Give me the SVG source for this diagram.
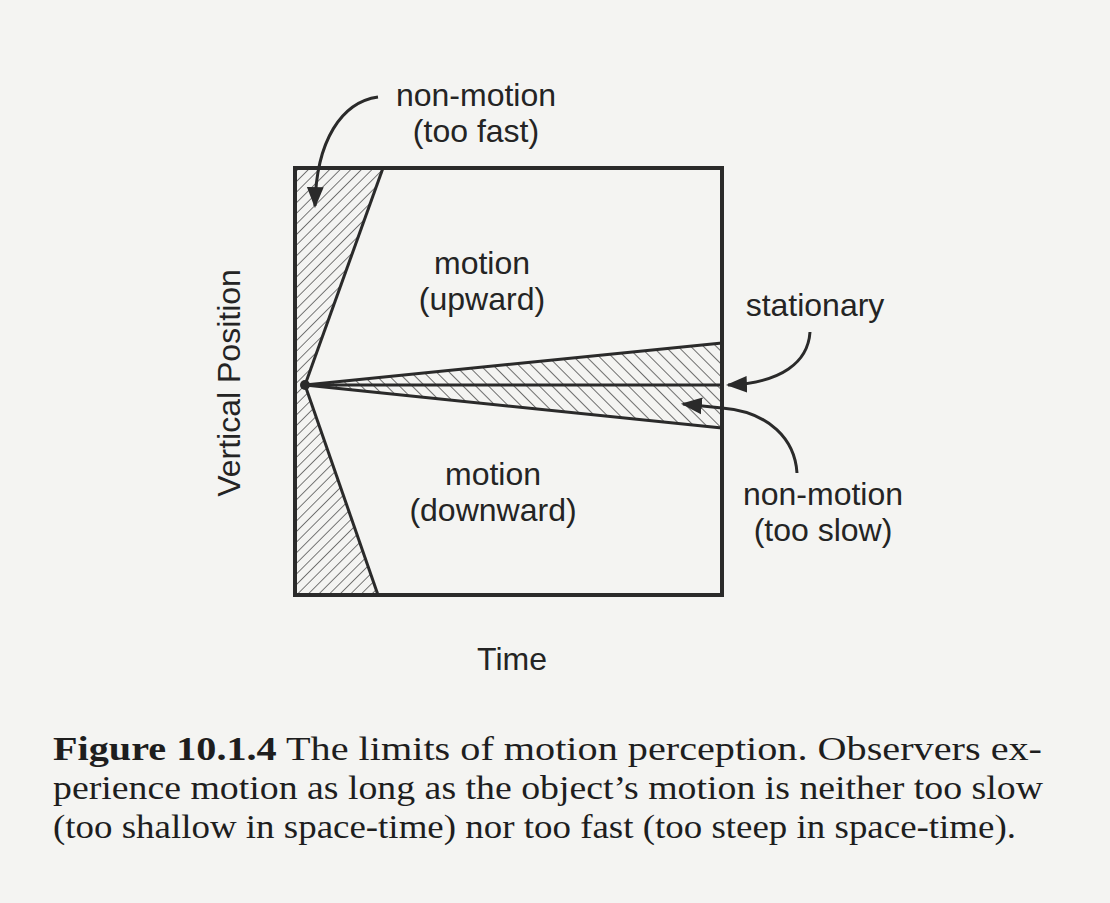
<svg xmlns="http://www.w3.org/2000/svg" width="1110" height="903" viewBox="0 0 1110 903">
<style>
.lbl{font-family:"Liberation Sans",Arial,sans-serif;font-size:32px;fill:#242424;text-anchor:middle}
.cap{font-family:"Liberation Serif","Times New Roman",serif;font-size:34px;fill:#1e1e1e}
.edge{fill:none;stroke:#2a2a2a;stroke-width:3}
.arrow{fill:none;stroke:#2a2a2a;stroke-width:3}
</style>
<defs>
<pattern id="hatchF" patternUnits="userSpaceOnUse" width="7.5" height="7.5" patternTransform="rotate(45)">
<line x1="0" y1="0" x2="0" y2="7.5" stroke="#333" stroke-width="1.3"/>
</pattern>
<pattern id="hatchS" patternUnits="userSpaceOnUse" width="9" height="9" patternTransform="rotate(-45)">
<line x1="0" y1="0" x2="0" y2="9" stroke="#333" stroke-width="1.4"/>
</pattern>
<marker id="ah" viewBox="0 0 10 10" refX="9" refY="5" markerWidth="7" markerHeight="7" markerUnits="strokeWidth" orient="auto">
<path d="M0,1 L10,5 L0,9 Z" fill="#2a2a2a"/>
</marker>
</defs>
<rect width="1110" height="903" fill="#f4f4f2"/>

<g id="too-fast-region">
<polygon points="295,168 383,168 305,385 378,595 295,595" fill="url(#hatchF)"/>
<line class="edge" x1="305" y1="385" x2="383" y2="168"/>
<line class="edge" x1="305" y1="385" x2="378" y2="595"/>
</g>
<g id="too-slow-region">
<polygon points="305,385 722,343 722,428" fill="url(#hatchS)"/>
<line class="edge" x1="305" y1="385" x2="722" y2="343"/>
<line class="edge" x1="305" y1="385" x2="722" y2="428"/>
</g>
<g id="stationary-line">
<line class="edge" x1="305" y1="385" x2="722" y2="385"/>
</g>
<g id="frame">
<rect x="295" y="168" width="427" height="427" fill="none" stroke="#2a2a2a" stroke-width="4"/>
<circle cx="305" cy="385" r="5" fill="#2a2a2a"/>
</g>

<g id="connectors">
<path class="arrow" d="M378,97 C342,102 316,140 315,206" marker-end="url(#ah)"/>
<path class="arrow" d="M810,332 C808,362 782,383 728,385" marker-end="url(#ah)"/>
<path class="arrow" d="M797,473 C795,440 770,412 722,408 L683,404" marker-end="url(#ah)"/>
</g>

<g id="label-too-fast">
<text class="lbl" x="476" y="106">non-motion</text>
<text class="lbl" x="476" y="142">(too fast)</text>
</g>
<g id="label-upward">
<text class="lbl" x="482" y="274">motion</text>
<text class="lbl" x="482" y="310">(upward)</text>
</g>
<g id="label-stationary">
<text class="lbl" x="815" y="316">stationary</text>
</g>
<g id="label-downward">
<text class="lbl" x="493" y="485">motion</text>
<text class="lbl" x="493" y="521">(downward)</text>
</g>
<g id="label-too-slow">
<text class="lbl" x="823" y="505">non-motion</text>
<text class="lbl" x="823" y="541">(too slow)</text>
</g>
<g id="axis-labels">
<text class="lbl" x="512" y="670">Time</text>
<text class="lbl" transform="translate(240,383) rotate(-90)" x="0" y="0">Vertical Position</text>
</g>

<g id="caption">
<text class="cap" x="53" y="760" textLength="989" lengthAdjust="spacingAndGlyphs"><tspan font-weight="bold">Figure 10.1.4</tspan>   The limits of motion perception. Observers ex-</text>
<text class="cap" x="53" y="799" textLength="990" lengthAdjust="spacingAndGlyphs">perience motion as long as the object’s motion is neither too slow</text>
<text class="cap" x="53" y="838" textLength="963" lengthAdjust="spacingAndGlyphs">(too shallow in space-time) nor too fast (too steep in space-time).</text>
</g>
</svg>
